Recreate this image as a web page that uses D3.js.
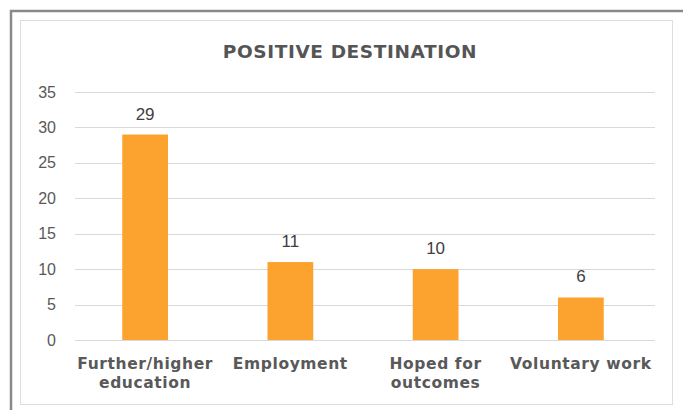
<!DOCTYPE html>
<html>
<head>
<meta charset="utf-8">
<script src="https://cdn.jsdelivr.net/npm/d3@7"></script>
<style>
  html, body { margin: 0; padding: 0; background: #fff; }
  svg { display: block; }
</style>
</head>
<body>
<svg id="chart" width="683" height="410"></svg>
<script>
// Destination categories (split into lines for the axis labels) and counts
const categories = ["Further/higher education", "Employment", "Hoped for outcomes", "Voluntary work"];
const categoryLines = [["Further/higher", "education"], ["Employment"], ["Hoped for", "outcomes"], ["Voluntary work"]];
const counts = [29, 11, 10, 6];
const yTicks = [0, 5, 10, 15, 20, 25, 30, 35];
const chartTitle = "POSITIVE DESTINATION";

const svg = d3.select("#chart");
const W = 683, H = 410;

// frame: dark outer edge and light inner chart border
svg.append("rect").attr("x", 11).attr("y", 11).attr("width", W).attr("height", H)
  .attr("fill", "#fff").attr("stroke", "#8a8a8a").attr("stroke-width", 2.5);
svg.append("rect").attr("x", 20.5).attr("y", 20.5).attr("width", 652).attr("height", 384)
  .attr("fill", "#fff").attr("stroke", "#dedede").attr("stroke-width", 1);

const x = d3.scaleBand().domain(categories).range([72.5, 653.5]).paddingInner(0.685).paddingOuter(0.3425);
const y = d3.scaleLinear().domain([0, 35]).range([340, 92]);
const gridLeft = 75, gridRight = 655;

// title
svg.append("text")
  .attr("x", 350).attr("y", 58)
  .attr("text-anchor", "middle")
  .attr("font-family", "DejaVu Sans, Verdana, sans-serif")
  .attr("font-weight", "bold")
  .attr("font-size", 18.5)
  .attr("letter-spacing", 0.6)
  .attr("fill", "#555555")
  .text(chartTitle);

// horizontal gridlines
svg.append("g")
  .selectAll("line")
  .data(yTicks)
  .join("line")
  .attr("x1", gridLeft).attr("x2", gridRight)
  .attr("y1", d => Math.round(y(d)) + 0.5)
  .attr("y2", d => Math.round(y(d)) + 0.5)
  .attr("stroke", "#d9d9d9").attr("stroke-width", 1);

// y axis labels
const yAxis = d3.axisLeft(y).tickValues(yTicks).tickSize(0).tickPadding(0);
const gy = svg.append("g").attr("transform", "translate(56,0)").call(yAxis);
gy.select(".domain").remove();
gy.selectAll("text")
  .attr("font-family", "Liberation Sans, Arial, sans-serif")
  .attr("font-size", 16)
  .attr("fill", "#595959");

// bars
svg.append("g")
  .selectAll("rect")
  .data(counts)
  .join("rect")
  .attr("x", (d, i) => x(categories[i]))
  .attr("y", d => y(d))
  .attr("width", x.bandwidth())
  .attr("height", d => y(0) - y(d))
  .attr("fill", "#fba22f");

// value labels
svg.append("g")
  .selectAll("text")
  .data(counts)
  .join("text")
  .attr("x", (d, i) => x(categories[i]) + x.bandwidth() / 2)
  .attr("y", d => y(d) - 15)
  .attr("text-anchor", "middle")
  .attr("font-family", "Liberation Sans, Arial, sans-serif")
  .attr("font-size", 17)
  .attr("fill", "#404040")
  .text(d => d);

// category labels
const cat = svg.append("g")
  .selectAll("text")
  .data(categoryLines)
  .join("text")
  .attr("text-anchor", "middle")
  .attr("font-family", "DejaVu Sans, Verdana, sans-serif")
  .attr("font-weight", "bold")
  .attr("font-size", 15.5)
  .attr("letter-spacing", 0.6)
  .attr("fill", "#595959");
cat.each(function (lines, i) {
  const cx = x(categories[i]) + x.bandwidth() / 2;
  d3.select(this).selectAll("tspan")
    .data(lines)
    .join("tspan")
    .attr("x", cx)
    .attr("y", (l, j) => 369 + j * 19)
    .text(l => l);
});
</script>
</body>
</html>
